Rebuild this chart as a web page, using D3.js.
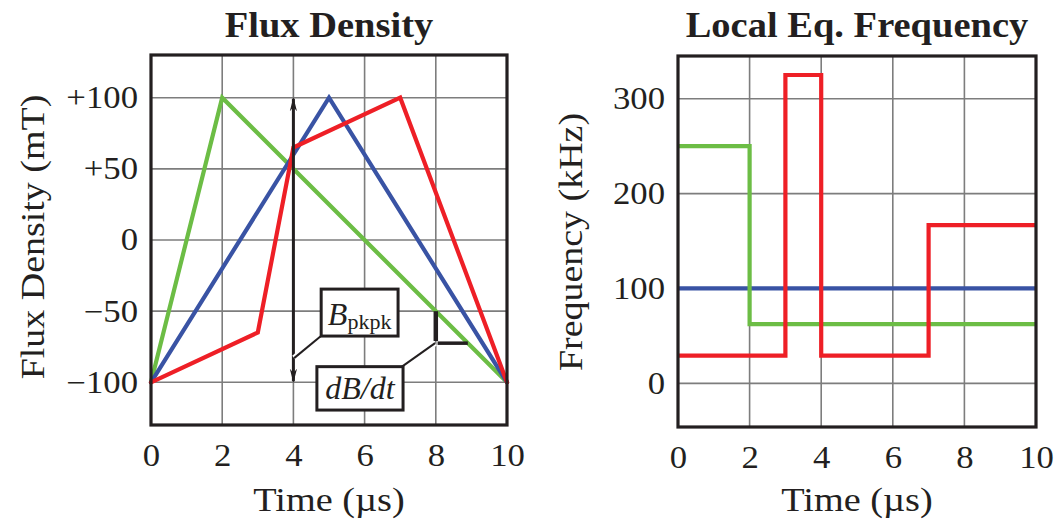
<!DOCTYPE html>
<html>
<head>
<meta charset="utf-8">
<script src="https://cdn.jsdelivr.net/npm/d3@7"></script>
<style>
  html, body { margin: 0; padding: 0; background: #fff; }
  svg { display: block; }
  text { font-family: "Liberation Serif", "Times New Roman", serif; fill: #231f20; }
</style>
</head>
<body>
<svg id="chart" width="1055" height="524"></svg>
<script>
// ---- data -------------------------------------------------------------
const timeTicks = [0, 2, 4, 6, 8, 10];
const fluxTicks = [100, 50, 0, -50, -100];
const fluxTickLabels = ["+100", "+50", "0", "\u221250", "\u2212100"];
const freqTicks = [0, 100, 200, 300];

// Flux density waveforms (time in µs, B in mT)
const greenFluxT = [0, 2, 10];
const greenFluxB = [-100, 100, -100];
const blueFluxT = [0, 5, 10];
const blueFluxB = [-100, 100, -100];
const redFluxT = [0, 3, 4, 7, 10];
const redFluxB = [-100, -65, 65, 100, -100];

// Local equivalent frequency (step after each breakpoint, kHz)
const greenFreqT = [0, 2, 10];
const greenFreqF = [250, 62.5, 62.5];
const blueFreqT = [0, 10];
const blueFreqF = [100, 100];
const redFreqT = [0, 3, 4, 7, 10];
const redFreqF = [29.2, 325, 29.2, 166.7, 166.7];

const colors = { green: "#6cbd45", blue: "#3953a4", red: "#ee1f26" };

// ---- layout -----------------------------------------------------------
const svg = d3.select("#chart");
const leftPanel = { x0: 151, x1: 507, y0: 55, y1: 425 };
const rightPanel = { x0: 678, x1: 1036, y0: 56, y1: 427 };

const xL = d3.scaleLinear().domain([0, 10]).range([leftPanel.x0, leftPanel.x1]);
const yL = d3.scaleLinear().domain([-130, 130]).range([leftPanel.y1, leftPanel.y0]);
const xR = d3.scaleLinear().domain([0, 10]).range([rightPanel.x0, rightPanel.x1]);
const yR = d3.scaleLinear().domain([-46, 345]).range([rightPanel.y1, rightPanel.y0]);

const zip = (ts, vs) => ts.map((t, i) => [t, vs[i]]);

// the typeface runs a little wider than Liberation Serif: widen glyphs
function widen(sel, factor) {
  sel.each(function () {
    const w = this.getComputedTextLength();
    d3.select(this).attr("textLength", w * factor).attr("lengthAdjust", "spacingAndGlyphs");
  });
  return sel;
}

function panel(p, x, y, yTicks, yLabels, title) {
  const g = svg.append("g");
  // grid
  g.append("g").selectAll("line").data(timeTicks).join("line")
    .attr("x1", d => x(d)).attr("x2", d => x(d))
    .attr("y1", p.y0).attr("y2", p.y1)
    .attr("stroke", "#7d7d7d").attr("stroke-width", 1.6);
  g.append("g").selectAll("line").data(yTicks).join("line")
    .attr("x1", p.x0).attr("x2", p.x1)
    .attr("y1", d => y(d)).attr("y2", d => y(d))
    .attr("stroke", "#7d7d7d").attr("stroke-width", 1.6);

  // tick labels
  const xAxis = d3.axisBottom(x).tickValues(timeTicks).tickSize(0).tickPadding(19);
  const xg = g.append("g").attr("transform", `translate(0,${p.y1})`).call(xAxis);
  xg.select(".domain").remove();
  widen(xg.selectAll("text").attr("font-size", 31).attr("font-family", "Liberation Serif").attr("fill", "#231f20"), 1.12);

  const yAxis = d3.axisLeft(y).tickValues(yTicks).tickSize(0).tickPadding(13)
    .tickFormat((d, i) => yLabels[i]);
  const yg = g.append("g").attr("transform", `translate(${p.x0},0)`).call(yAxis);
  yg.select(".domain").remove();
  widen(yg.selectAll("text").attr("font-size", 31).attr("font-family", "Liberation Serif").attr("fill", "#231f20"), 1.12);

  // titles
  const cx = (p.x0 + p.x1) / 2;
  widen(svg.append("text").attr("x", cx).attr("y", 37).attr("text-anchor", "middle")
    .attr("font-size", 35).attr("font-weight", "bold").text(title), 1.1);
  widen(svg.append("text").attr("x", cx).attr("y", 511).attr("text-anchor", "middle")
    .attr("font-size", 33).text("Time (\u00b5s)"), 1.16);
  return g;
}

function frame(p) {
  svg.append("rect").attr("x", p.x0).attr("y", p.y0)
    .attr("width", p.x1 - p.x0).attr("height", p.y1 - p.y0)
    .attr("fill", "none").attr("stroke", "#231f20").attr("stroke-width", 3.2);
}

// ---- left: flux density ----------------------------------------------
panel(leftPanel, xL, yL, fluxTicks, fluxTickLabels, "Flux Density");
widen(svg.append("text").attr("transform", `translate(44,237) rotate(-90)`)
  .attr("text-anchor", "middle").attr("font-size", 33).text("Flux Density (mT)"), 1.15);

const lineL = d3.line().x(d => xL(d[0])).y(d => yL(d[1]));
const fluxSeries = [
  { c: colors.green, pts: zip(greenFluxT, greenFluxB) },
  { c: colors.blue, pts: zip(blueFluxT, blueFluxB) },
  { c: colors.red, pts: zip(redFluxT, redFluxB) }
];
svg.append("g").selectAll("path").data(fluxSeries).join("path")
  .attr("d", d => lineL(d.pts)).attr("fill", "none")
  .attr("stroke", d => d.c).attr("stroke-width", 4.2)
  .attr("stroke-linejoin", "miter").attr("stroke-linecap", "round");

// peak-to-peak arrow
const defs = svg.append("defs");
defs.append("marker").attr("id", "arr").attr("viewBox", "0 0 10 10")
  .attr("refX", 9).attr("refY", 5).attr("markerWidth", 14).attr("markerHeight", 9)
  .attr("markerUnits", "userSpaceOnUse").attr("orient", "auto-start-reverse")
  .attr("preserveAspectRatio", "none")
  .append("path").attr("d", "M0,1 L10,5 L0,9 L3,5 Z").attr("fill", "#231f20");

const ann = svg.append("g");
ann.append("line").attr("x1", xL(4)).attr("x2", xL(4))
  .attr("y1", yL(-100) - 1).attr("y2", yL(100) + 1)
  .attr("stroke", "#231f20").attr("stroke-width", 3)
  .attr("marker-start", "url(#arr)").attr("marker-end", "url(#arr)");

// dB/dt slope legs on the green ramp
ann.append("line").attr("x1", xL(8)).attr("x2", xL(8))
  .attr("y1", yL(-50)).attr("y2", yL(-71))
  .attr("stroke", "#231f20").attr("stroke-width", 4.5);
ann.append("line").attr("x1", xL(8.05)).attr("x2", xL(8.9))
  .attr("y1", yL(-72.5)).attr("y2", yL(-72.5))
  .attr("stroke", "#231f20").attr("stroke-width", 3.5);

// leader lines with white halo
function leader(x1, y1, x2, y2) {
  ann.append("line").attr("x1", x1).attr("y1", y1).attr("x2", x2).attr("y2", y2)
    .attr("stroke", "#fff").attr("stroke-width", 6);
  ann.append("line").attr("x1", x1).attr("y1", y1).attr("x2", x2).attr("y2", y2)
    .attr("stroke", "#231f20").attr("stroke-width", 2);
}
leader(xL(4.8), yL(-67), xL(4.02), yL(-83));
leader(xL(7.05), yL(-89), xL(7.98), yL(-72.5));

// label boxes
function box(x0, x1, v0, v1) {
  ann.append("rect").attr("x", xL(x0)).attr("y", yL(v0))
    .attr("width", xL(x1) - xL(x0)).attr("height", yL(v1) - yL(v0))
    .attr("fill", "#fff").attr("stroke", "#231f20").attr("stroke-width", 3);
}
box(4.78, 6.94, -34.5, -67.5);
const bt = ann.append("text").attr("x", xL(5.86)).attr("y", yL(-60)).attr("text-anchor", "middle");
bt.append("tspan").attr("font-size", 32).attr("font-style", "italic").text("B");
bt.append("tspan").attr("font-size", 22).attr("dy", 4).text("pkpk");

box(4.66, 7.08, -89, -119.5);
ann.append("text").attr("x", xL(5.87)).attr("y", yL(-112)).attr("text-anchor", "middle")
  .attr("font-size", 32).attr("font-style", "italic").text("dB/dt");

frame(leftPanel);

// ---- right: local equivalent frequency -------------------------------
panel(rightPanel, xR, yR, freqTicks, freqTicks.map(String), "Local Eq. Frequency");
widen(svg.append("text").attr("transform", `translate(582,242) rotate(-90)`)
  .attr("text-anchor", "middle").attr("font-size", 33).text("Frequency (kHz)"), 1.15);

const lineR = d3.line().x(d => xR(d[0])).y(d => yR(d[1])).curve(d3.curveStepAfter);
const freqSeries = [
  { c: colors.blue, pts: zip(blueFreqT, blueFreqF) },
  { c: colors.green, pts: zip(greenFreqT, greenFreqF) },
  { c: colors.red, pts: zip(redFreqT, redFreqF) }
];
svg.append("g").selectAll("path").data(freqSeries).join("path")
  .attr("d", d => lineR(d.pts)).attr("fill", "none")
  .attr("stroke", d => d.c).attr("stroke-width", 4.2)
  .attr("stroke-linejoin", "miter");

frame(rightPanel);
</script>
</body>
</html>
